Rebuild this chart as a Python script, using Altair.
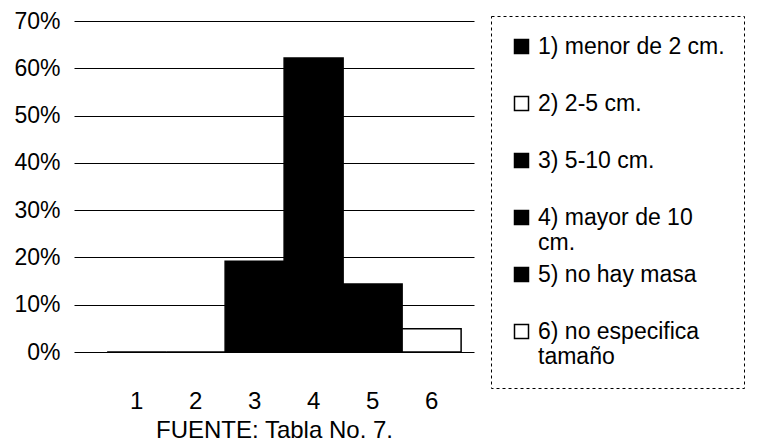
import altair as alt
import pandas as pd

categories = ["1", "2", "3", "4", "5", "6"]
values = [0.0, 0.0, 0.192, 0.622, 0.144, 0.049]
legend_labels = [
    "1) menor de 2 cm.",
    "2) 2-5 cm.",
    "3) 5-10 cm.",
    "4) mayor de 10\ncm.",
    "5) no hay masa",
    "6) no especifica\ntamaño",
]
fills = ["black", "white", "black", "black", "black", "white"]
y_ticks = [0, 0.1, 0.2, 0.3, 0.4, 0.5, 0.6, 0.7]

df = pd.DataFrame({"cat": categories, "val": values, "lab": legend_labels})

FONT = "Liberation Sans"

chart = (
    alt.Chart(df)
    .mark_bar(stroke="black", strokeWidth=1.5)
    .encode(
        x=alt.X(
            "cat:N",
            sort=categories,
            scale=alt.Scale(paddingInner=0, paddingOuter=0.39, align=0.72),
            axis=alt.Axis(
                title="FUENTE: Tabla No. 7.",
                labelAngle=0,
                ticks=False,
                domain=False,
                labelPadding=37,
                labelFontSize=24,
                titleFontSize=24,
                titleFontWeight="normal",
                titlePadding=5,
                labelColor="black",
                titleColor="black",
            ),
        ),
        y=alt.Y(
            "val:Q",
            scale=alt.Scale(domain=[0, 0.7], nice=False),
            axis=alt.Axis(
                title=None,
                format=".0%",
                values=y_ticks,
                ticks=False,
                domain=False,
                labelFontSize=23,
                labelPadding=14,
                labelColor="black",
                grid=True,
                gridColor="black",
                gridWidth=1,
                gridOpacity=1,
            ),
        ),
        color=alt.Color(
            "lab:N",
            sort=legend_labels,
            scale=alt.Scale(domain=legend_labels, range=fills),
            legend=alt.Legend(
                title=None,
                orient="none",
                legendX=417,
                legendY=-5,
                symbolType="square",
                symbolSize=196,
                symbolStrokeColor="black",
                symbolStrokeWidth=1.5,
                symbolOpacity=1,
                labelFontSize=23,
                labelColor="black",
                labelLimit=400,
                labelExpr="split(datum.label, '\\n')",
                gridAlign="all",
                rowPadding=8,
                padding=19,
                strokeColor="black",
                labelOffset=5,
            ),
        ),
    )
    .properties(width=400, height=331, padding={"left": 5, "top": 2, "right": 0, "bottom": 0})
    .configure(font=FONT)
    .configure_view(stroke=None)
    .configure_axis(labelFont=FONT, titleFont=FONT)
    .configure_legend(labelFont=FONT, strokeDash=[3, 3])
)

chart.save("out.html", embed_options={"renderer": "svg", "actions": False})
